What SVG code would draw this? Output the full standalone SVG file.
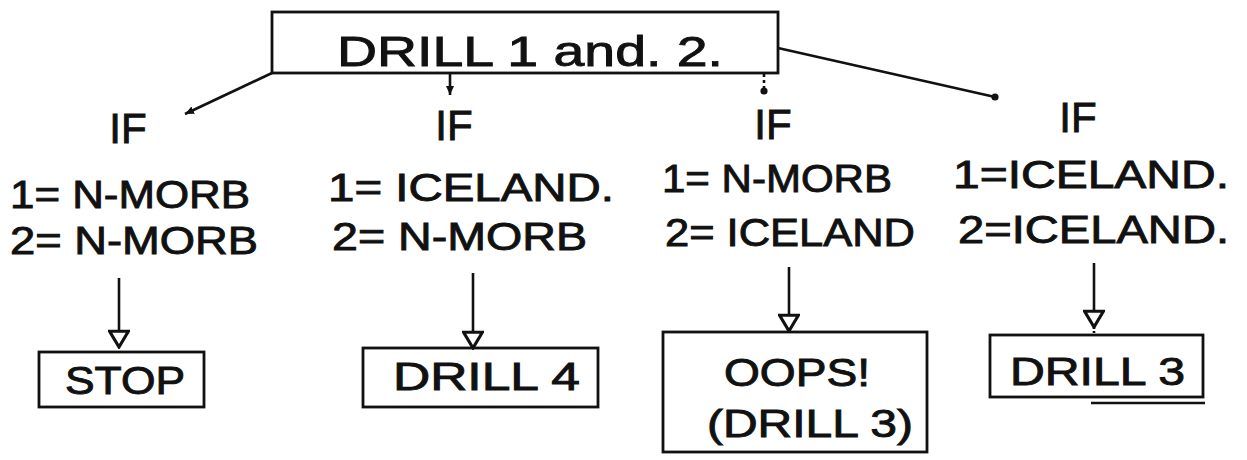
<svg xmlns="http://www.w3.org/2000/svg" width="1247" height="460" viewBox="0 0 1247 460">
<style>
.box{fill:none;stroke:#111;stroke-width:2.8}
.t{font-family:"Liberation Sans","DejaVu Sans",sans-serif;fill:#111;stroke:#111;stroke-width:0.9}
.big{font-size:38px}
.lbl{font-size:38px}
.if{font-size:42px}
.c{stroke:#111;stroke-width:2.6;fill:none}
</style>
<defs>
<marker id="ah" viewBox="0 0 10 10" refX="9" refY="5" markerWidth="10" markerHeight="10" orient="auto" markerUnits="userSpaceOnUse">
<path d="M0,1 L9,5 L0,9 z" fill="#111"/>
</marker>
<marker id="tri" viewBox="0 0 12 14" refX="11" refY="7" markerWidth="20" markerHeight="22" orient="auto" markerUnits="userSpaceOnUse">
<path d="M1,1 L11,7 L1,13 z" fill="#fff" stroke="#111" stroke-width="2"/>
</marker>
<marker id="dot" viewBox="0 0 10 10" refX="5" refY="5" markerWidth="8" markerHeight="8" markerUnits="userSpaceOnUse">
<circle cx="5" cy="5" r="4.5" fill="#111"/>
</marker>
</defs>
<g id="connectors">
<line class="c" x1="272" y1="73" x2="185" y2="114" marker-end="url(#ah)"/>
<line class="c" x1="450" y1="73" x2="450" y2="95" marker-end="url(#ah)"/>
<line class="c" x1="764" y1="74" x2="764" y2="91" stroke-dasharray="3 3" marker-end="url(#dot)"/>
<line class="c" x1="778" y1="48" x2="995" y2="97" marker-end="url(#dot)"/>
<line class="c" x1="119" y1="278" x2="119" y2="347" marker-end="url(#tri)"/>
<line class="c" x1="473" y1="273" x2="473" y2="348" marker-end="url(#tri)"/>
<line class="c" x1="789" y1="267" x2="789" y2="331" marker-end="url(#tri)"/>
<line class="c" x1="1094" y1="263" x2="1094" y2="327" marker-end="url(#tri)"/>
<line class="c" x1="1094" y1="327" x2="1094" y2="335" stroke-dasharray="2 2"/>
</g>
<g id="root">
<rect class="box" x="272" y="12" width="506" height="61"/>
<text class="t" x="337" y="66" font-size="42" textLength="386" lengthAdjust="spacingAndGlyphs">DRILL 1 and. 2.</text>
</g>
<g id="if1">
<text class="t if" x="128" y="143" text-anchor="middle">IF</text>
<text class="t lbl" x="10" y="208" textLength="240" lengthAdjust="spacingAndGlyphs">1= N-MORB</text>
<text class="t lbl" x="10" y="254" textLength="248" lengthAdjust="spacingAndGlyphs">2= N-MORB</text>
</g>
<g id="if2">
<text class="t if" x="454" y="140" text-anchor="middle">IF</text>
<text class="t lbl" x="328" y="201" textLength="286" lengthAdjust="spacingAndGlyphs">1= ICELAND.</text>
<text class="t lbl" x="332" y="250" textLength="255" lengthAdjust="spacingAndGlyphs">2=  N-MORB</text>
</g>
<g id="if3">
<text class="t if" x="773" y="139" text-anchor="middle">IF</text>
<text class="t lbl" x="662" y="192" textLength="230" lengthAdjust="spacingAndGlyphs">1= N-MORB</text>
<text class="t lbl" x="665" y="246" textLength="250" lengthAdjust="spacingAndGlyphs">2= ICELAND</text>
</g>
<g id="if4">
<text class="t if" x="1078" y="132" text-anchor="middle">IF</text>
<text class="t lbl" x="953" y="188" textLength="276" lengthAdjust="spacingAndGlyphs">1=ICELAND.</text>
<text class="t lbl" x="958" y="243" textLength="271" lengthAdjust="spacingAndGlyphs">2=ICELAND.</text>
</g>
<g id="stop">
<rect class="box" x="39" y="352" width="165" height="55"/>
<text class="t big" x="65" y="394" textLength="120" lengthAdjust="spacingAndGlyphs">STOP</text>
</g>
<g id="drill4">
<rect class="box" x="363" y="348" width="235" height="59"/>
<text class="t big" x="393" y="390" textLength="187" lengthAdjust="spacingAndGlyphs">DRILL 4</text>
</g>
<g id="oops">
<rect class="box" x="663" y="332" width="264" height="120"/>
<text class="t big" x="724" y="386" textLength="146" lengthAdjust="spacingAndGlyphs">OOPS!</text>
<text class="t big" x="707" y="437" textLength="206" lengthAdjust="spacingAndGlyphs">(DRILL 3)</text>
</g>
<g id="drill3">
<rect class="box" x="990" y="335" width="213" height="62"/>
<line class="c" x1="1091" y1="403" x2="1205" y2="403" stroke-width="1.8"/>
<text class="t big" x="1010" y="385" textLength="175" lengthAdjust="spacingAndGlyphs">DRILL 3</text>
</g>
</svg>
